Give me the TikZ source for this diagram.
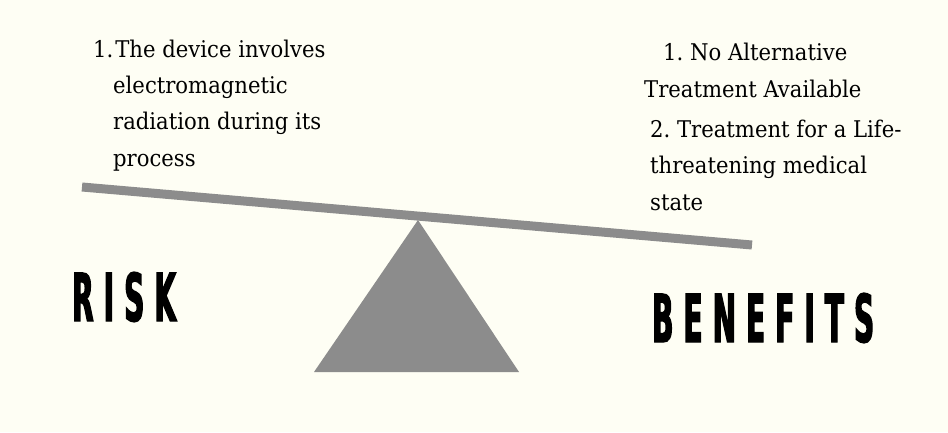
\documentclass[tikz,border=0pt]{standalone}
\usepackage{fontspec}
\newfontfamily\notefont[FakeStretch=0.92]{DejaVu Serif}
\newfontfamily\signfont[FakeStretch=0.42,FakeBold=2,LetterSpace=15.5]{DejaVu Sans}
\definecolor{paper}{HTML}{FEFEF4}
\definecolor{beamgray}{HTML}{8C8C8C}
\tikzset{
  notetext/.style={anchor=base west, inner sep=0pt, align=left, font=\notefont\fontsize{23}{36.3}\selectfont},
  signtext/.style={anchor=base west, inner sep=0pt, font=\signfont\bfseries\fontsize{66}{66}\selectfont}
}

\begin{document}
\begin{tikzpicture}[x=1pt,y=-1pt]
	%%%%% START %%%%%
	
	\fill[paper] (0,0) rectangle (948,432);
	\useasboundingbox (0,0) rectangle (948,432);
	
	\draw[line width=9pt, color=beamgray] (82,187) -- (752,245);
	\fill[beamgray] (314,372) -- (418,220) -- (519,372) -- cycle;
	
	% base anchor = last line of each block
	\node[notetext] (riskitem) at (93,166) {1.\hskip2pt The device involves\\
		\hspace*{20pt}electromagnetic\\
		\hspace*{20pt}radiation during its\\
		\hspace*{20pt}process};
	
	\node[notetext] (benefitone) at (644,97) {\hspace*{19pt}1.\ No Alternative\\
		Treatment Available};
	\node[notetext] (benefittwo) at (650,210) {2.\ Treatment for a Life-\\
		threatening medical\\
		state};
	
	\node[signtext] (risklabel) at (72,321) {RISK};
	\node[signtext] (benefitlabel) at (652,342) {BENEFITS};
	
	%%%%% END %%%%%
\end{tikzpicture}
\end{document}
